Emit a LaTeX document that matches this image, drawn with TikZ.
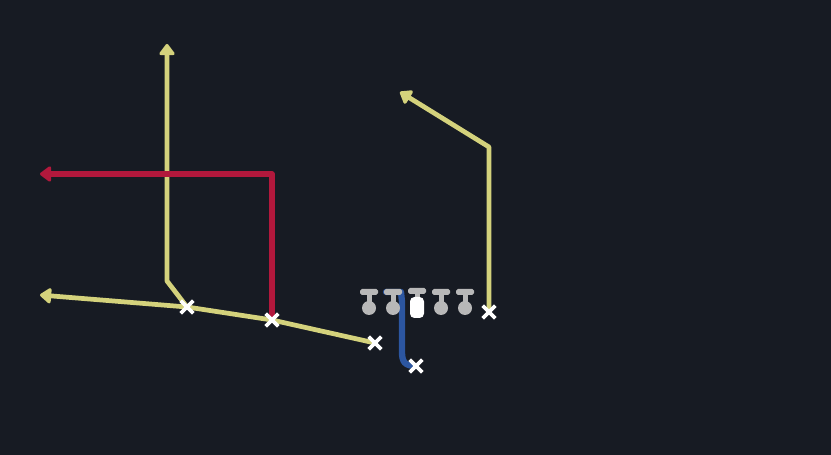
\documentclass[tikz,border=0pt]{standalone}
\usetikzlibrary{shapes.misc}
\usetikzlibrary{arrows.meta}
\definecolor{feld}{RGB}{23,27,35}
\definecolor{gelb}{RGB}{212,210,124}
\definecolor{rot}{RGB}{178,24,60}
\definecolor{blau}{RGB}{44,86,160}
\definecolor{block}{RGB}{184,184,184}

\tikzset{
  route/.style={line width=2.7pt, line join=round, line cap=round},
  spitze/.style={-{Triangle[length=7pt, width=10pt, round]}},
  kreuz/.style={cross out, draw=white, line width=2.2pt, minimum size=5pt, inner sep=0pt}
}

\begin{document}
\begin{tikzpicture}[x=0.02cm, y=-0.02cm]

    \fill[feld] (0,0) rectangle (831,455);
    \useasboundingbox (0,0) rectangle (831,455);

    % spieler
    \coordinate (s1) at (187,307);
    \coordinate (s2) at (272,320);
    \coordinate (s3) at (375,343);
    \coordinate (rb) at (416,366);
    \coordinate (te) at (489,312);

    % wegpunkte
    \coordinate (k1) at (167,281);
    \coordinate (z1) at (167,44);
    \coordinate (z2) at (40,295);
    \coordinate (k3) at (272,174);
    \coordinate (z3) at (40,174);
    \coordinate (k4) at (489,147);
    \coordinate (z4) at (400,92);

    % blocker (blau)
    \draw[route, blau, line width=3.6pt] (386,292) -- (401,292) -- (402,302) -- (402,352) .. controls (402,362) and (405,366) .. (rb);

    % routen
    \draw[route, gelb, spitze] (s1) -- (k1) -- (z1);
    \draw[route, gelb, spitze] (s3) -- (s2) -- (s1) -- (z2);
    \draw[route, rot, spitze, line width=3.2pt] (s2) -- (k3) -- (z3);
    \draw[route, gelb, spitze] (te) -- (k4) -- (z4);

    % linie
    \foreach \lx in {369,393,441,465} {
        \fill[block, rounded corners=1pt] (\lx-9,289) rectangle (\lx+9,295);
        \fill[block] (\lx-2.5,294) rectangle (\lx+2.5,303);
        \fill[block] (\lx,308) circle (7);
    }
    \fill[block, rounded corners=1pt] (417-9,288) rectangle (417+9,294);
    \fill[block] (417-2.5,293) rectangle (417+2.5,299);
    \fill[white, rounded corners=2.5pt] (410,297) rectangle (424,318);

    \node[kreuz] (x1) at (s1) {};
    \node[kreuz] (x2) at (s2) {};
    \node[kreuz] (x3) at (s3) {};
    \node[kreuz] (x4) at (rb) {};
    \node[kreuz] (x5) at (te) {};

\end{tikzpicture}
\end{document}
